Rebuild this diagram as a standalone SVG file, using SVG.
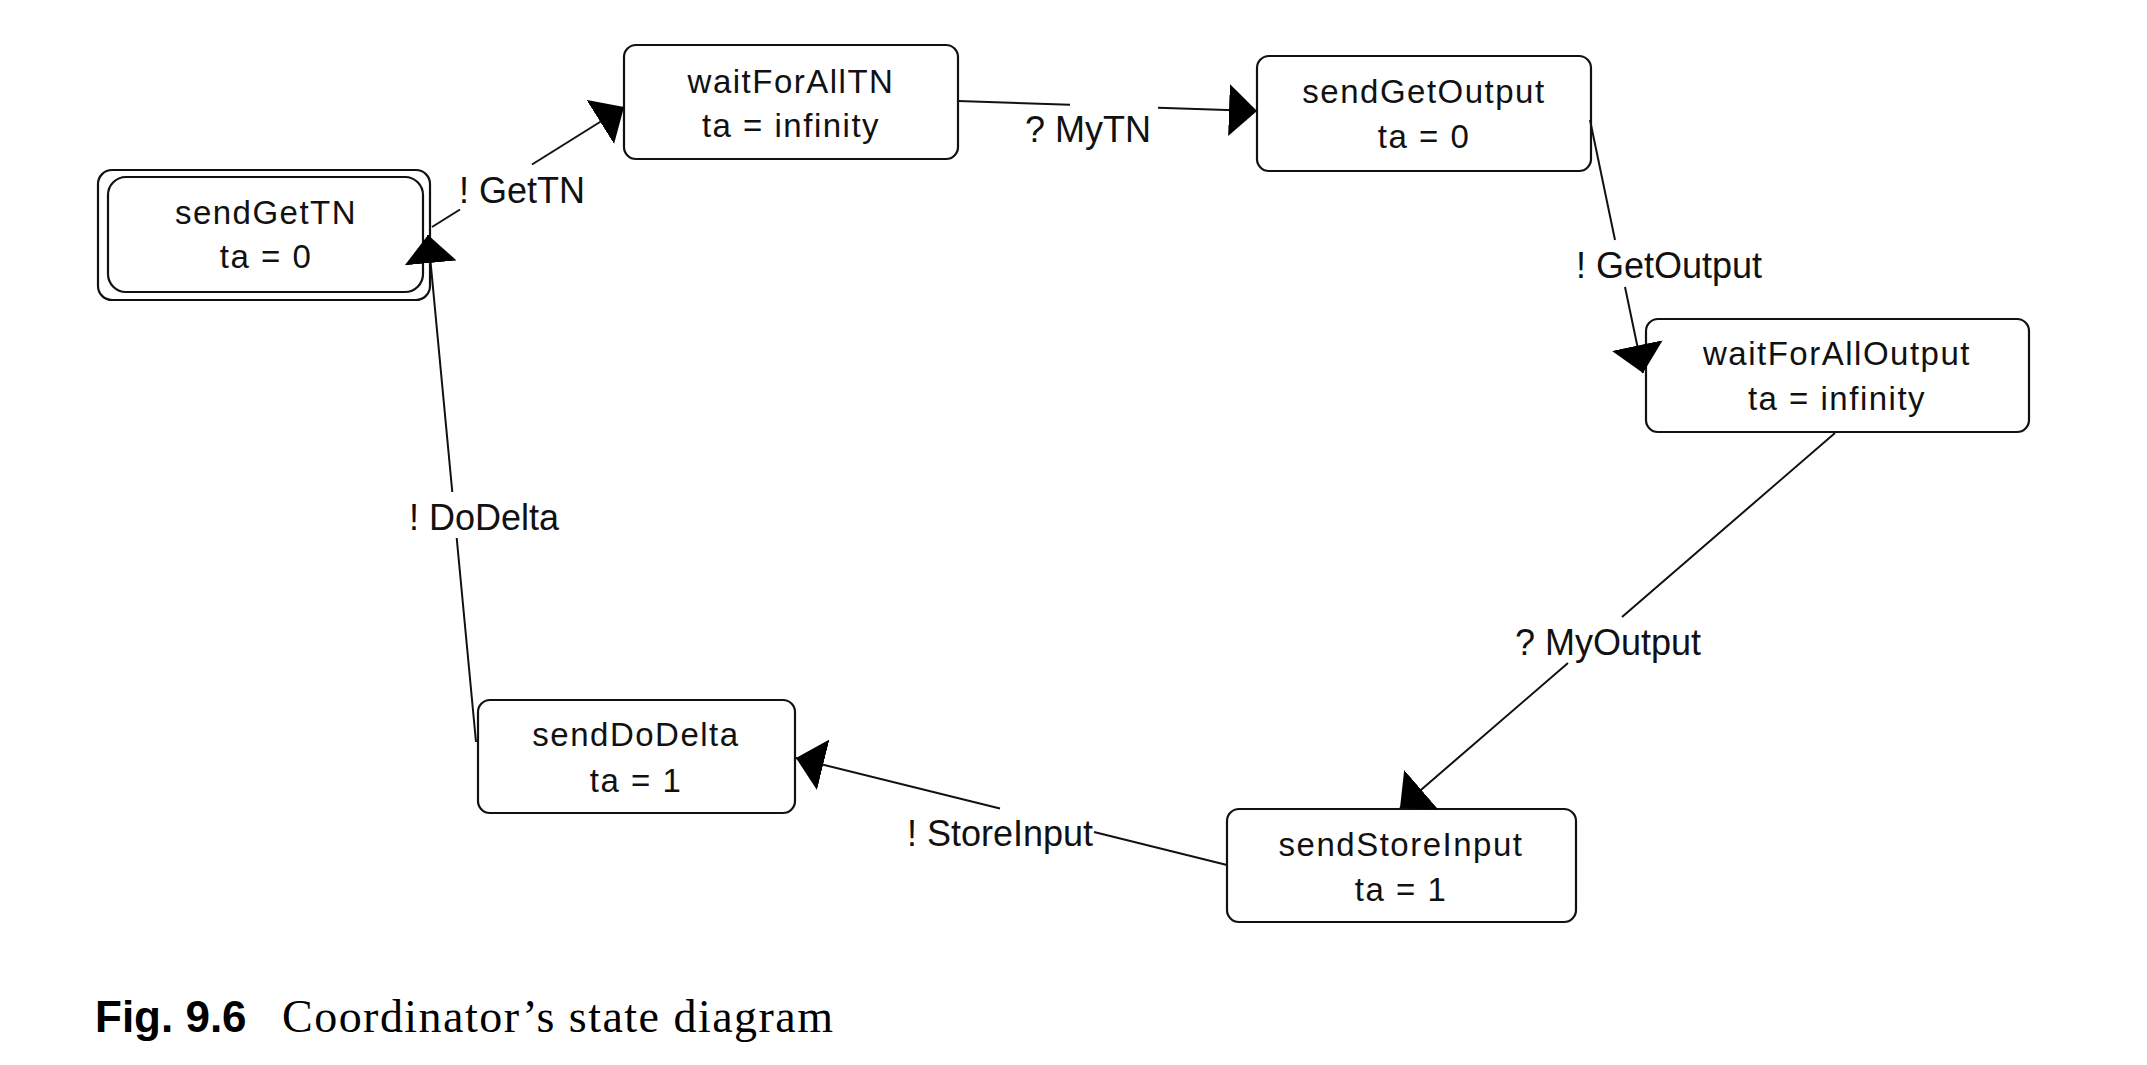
<svg xmlns="http://www.w3.org/2000/svg" width="2147" height="1065" viewBox="0 0 2147 1065">
<style>
  .box { fill: #ffffff; stroke: #111111; stroke-width: 2.2; }
  .nt { font-family: "Liberation Sans", Arial, sans-serif; font-size: 33px; letter-spacing: 1.5px; text-anchor: middle; fill: #111111; }
  .lt { font-family: "Liberation Sans", Arial, sans-serif; font-size: 36px; fill: #111111; }
  .edge { fill: none; stroke: #111111; stroke-width: 2; marker-end: url(#arrow); }
  .capb { font-family: "Liberation Sans", Arial, sans-serif; font-weight: bold; font-size: 44px; fill: #000000; }
  .capt { font-family: "Liberation Serif", "Times New Roman", serif; font-size: 46px; fill: #000000; }
</style>
<defs>
  <marker id="arrow" viewBox="0 0 28 52" refX="28" refY="26" markerWidth="28" markerHeight="52" markerUnits="userSpaceOnUse" orient="auto">
    <path d="M0,0 L28,26 L0,52 Z" fill="#000000"/>
  </marker>
</defs>
<rect x="0" y="0" width="2147" height="1065" fill="#ffffff"/>

<g id="sendGetTN">
  <rect class="box" x="98" y="170" width="332" height="130" rx="14" ry="14"/>
  <rect class="box" x="108" y="177" width="315" height="115" rx="18" ry="18"/>
  <text class="nt" x="266" y="224">sendGetTN</text>
  <text class="nt" x="266" y="268">ta = 0</text>
</g>
<g id="waitForAllTN">
  <rect class="box" x="624" y="45" width="334" height="114" rx="12" ry="12"/>
  <text class="nt" x="791" y="93">waitForAllTN</text>
  <text class="nt" x="791" y="137">ta = infinity</text>
</g>
<g id="sendGetOutput">
  <rect class="box" x="1257" y="56" width="334" height="115" rx="12" ry="12"/>
  <text class="nt" x="1424" y="103">sendGetOutput</text>
  <text class="nt" x="1424" y="148">ta = 0</text>
</g>
<g id="waitForAllOutput">
  <rect class="box" x="1646" y="319" width="383" height="113" rx="12" ry="12"/>
  <text class="nt" x="1837" y="365">waitForAllOutput</text>
  <text class="nt" x="1837" y="410">ta = infinity</text>
</g>
<g id="sendStoreInput">
  <rect class="box" x="1227" y="809" width="349" height="113" rx="12" ry="12"/>
  <text class="nt" x="1401" y="856">sendStoreInput</text>
  <text class="nt" x="1401" y="901">ta = 1</text>
</g>
<g id="sendDoDelta">
  <rect class="box" x="478" y="700" width="317" height="113" rx="12" ry="12"/>
  <text class="nt" x="636" y="746">sendDoDelta</text>
  <text class="nt" x="636" y="792">ta = 1</text>
</g>

<g id="connectors">
  <path class="edge" d="M432,227 L460,209.5 M532,164.5 L624,107"/>
  <text class="lt" x="459" y="203">! GetTN</text>

  <path class="edge" d="M958,101 L1070,104.7 M1158,107.7 L1257,111"/>
  <text class="lt" x="1025" y="142">? MyTN</text>

  <path class="edge" d="M1590,120 L1615,240 M1625,287 L1643,373"/>
  <text class="lt" x="1576" y="278">! GetOutput</text>

  <path class="edge" d="M1835,433 L1622,617 M1568,663 L1400,808"/>
  <text class="lt" x="1515" y="655">? MyOutput</text>

  <path class="edge" d="M1227,865 L1094,832 M1000,808.5 L796,758"/>
  <text class="lt" x="907" y="846">! StoreInput</text>

  <path class="edge" d="M476,742 L456.7,538 M452.3,492 L428,235"/>
  <text class="lt" x="409" y="530">! DoDelta</text>
</g>

<g id="caption">
  <text class="capb" x="95" y="1032">Fig. 9.6</text>
  <text class="capt" x="282" y="1032" textLength="551" lengthAdjust="spacing">Coordinator’s state diagram</text>
</g>
</svg>
